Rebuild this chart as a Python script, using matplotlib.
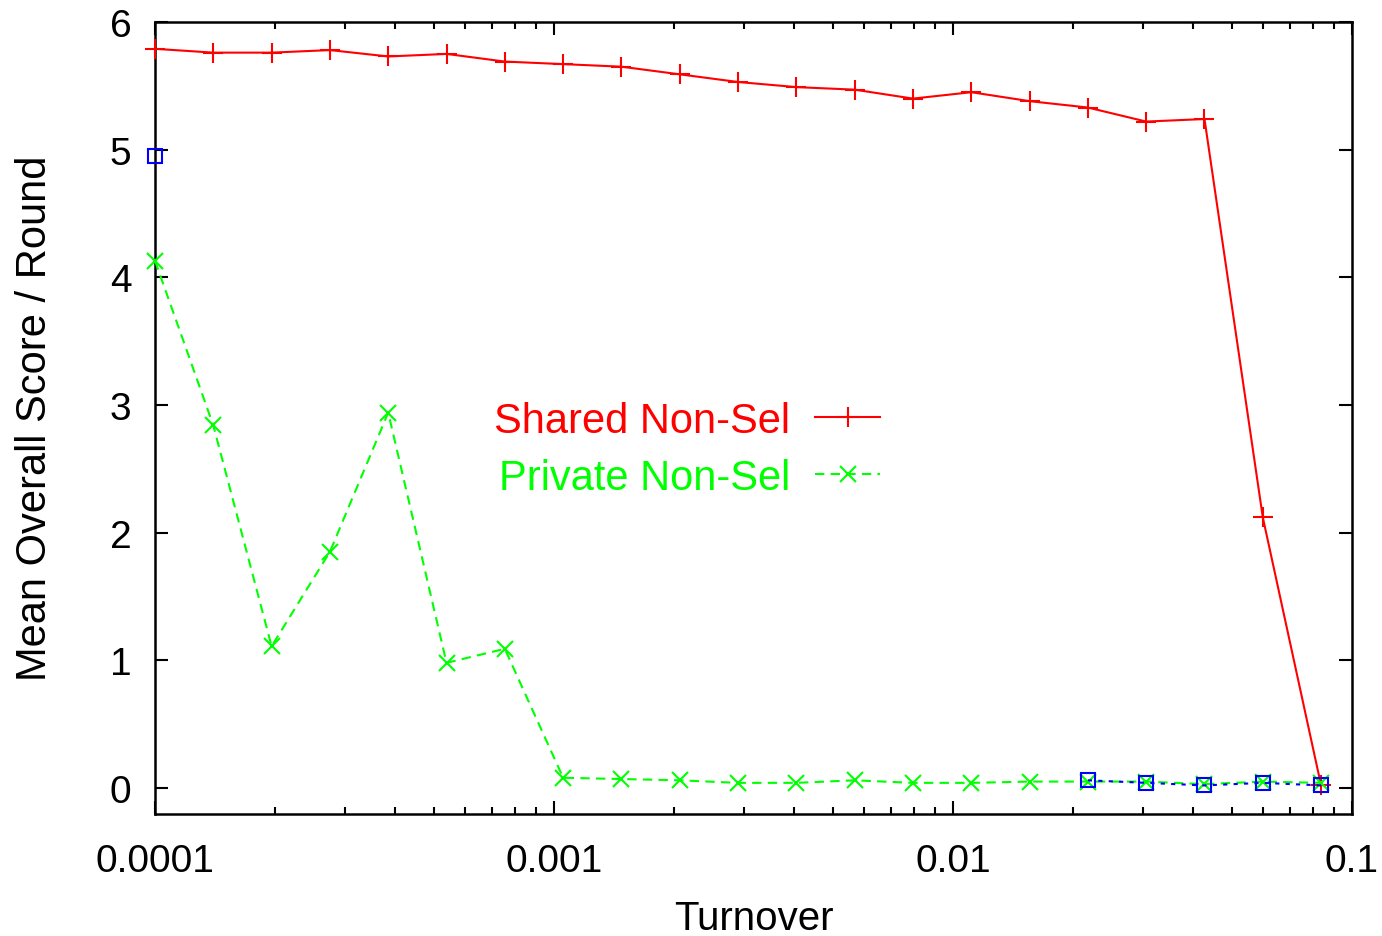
import matplotlib as mpl
mpl.use('Agg')
import matplotlib.pyplot as plt
import numpy as np

## data
turnover = [0.0001, 0.00014, 0.000196, 0.0002744, 0.00038416, 0.000537824,
            0.000752954, 0.00105414, 0.00147579, 0.0020661, 0.00289255,
            0.00404957, 0.00566939, 0.00793715, 0.0111120, 0.0155568,
            0.0217795, 0.0304913, 0.0426879, 0.0597630, 0.0836683]

shared_nonsel = [5.79, 5.76, 5.76, 5.78, 5.73, 5.75, 5.69, 5.67, 5.65, 5.59,
                 5.53, 5.49, 5.47, 5.40, 5.45, 5.38, 5.33, 5.22, 5.24, 2.12, 0.02]

private_nonsel = [4.13, 2.84, 1.11, 1.85, 2.94, 0.98, 1.09, 0.08, 0.07, 0.06,
                  0.04, 0.04, 0.06, 0.04, 0.04, 0.05, 0.05, 0.05, 0.03, 0.05, 0.04]

# third series has no key entry; missing in the middle
nan = float('nan')
third = [4.95, nan, nan, nan, nan, nan, nan, nan, nan, nan, nan,
         nan, nan, nan, nan, nan, 0.06, 0.04, 0.02, 0.04, 0.02]

xticks = [0.0001, 0.001, 0.01, 0.1]
xticklabels = ['0.0001', '0.001', '0.01', '0.1']
yticks = [0, 1, 2, 3, 4, 5, 6]

plt.rcParams['font.family'] = ['Liberation Sans', 'DejaVu Sans']

fig = plt.figure(figsize=(13.82, 9.37), dpi=100)
ax = fig.add_axes([155/1382, (937-814.5)/937, (1352-155)/1382, (814.5-23)/937])

ax.plot(turnover, shared_nonsel, color='#ff0000', lw=1.5, marker='+', ms=14, mew=1.5,
        label='Shared Non-Sel', clip_on=False, zorder=3)
ax.plot(turnover, private_nonsel, color='#00ff00', lw=1.5, ls=(0, (4.5, 3)), marker='x', ms=12, mew=1.5,
        label='Private Non-Sel', clip_on=False, zorder=4)
ax.plot(turnover, third, color='#0000ff', lw=1.5, ls=(0, (2, 3)), marker='s', ms=10, mew=1.5,
        mfc='none', clip_on=False, zorder=5)

ax.set_xscale('log')
ax.set_xlim(0.0001, 0.1)
ax.set_ylim(-0.2, 6)
ax.set_xticks(xticks)
ax.set_xticklabels(xticklabels)
ax.set_yticks(yticks)

ax.tick_params(which='both', direction='in', top=True, right=True, width=1.5, labelsize=28)
ax.tick_params(which='major', length=9.5)
ax.tick_params(which='minor', length=5)
ax.tick_params(axis='x', pad=21)
ax.tick_params(axis='y', pad=17)
for s in ax.spines.values():
    s.set_linewidth(1.8)

ax.set_xlabel('Turnover', fontsize=29, labelpad=15)
ax.set_ylabel('Mean Overall Score / Round', fontsize=30, labelpad=39)

leg = ax.legend(loc='center right', bbox_to_anchor=(0.606, 0.46), frameon=False,
                markerfirst=False, fontsize=30, handlelength=1.56, handletextpad=0.6,
                labelspacing=0.4, borderpad=0, borderaxespad=0, labelcolor='linecolor')

fig.savefig('out.png', dpi=100)
